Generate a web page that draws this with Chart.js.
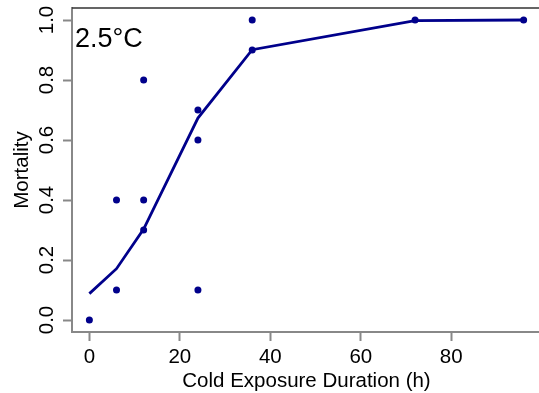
<!DOCTYPE html>
<html>
<head>
<meta charset="utf-8">
<script src="https://cdn.jsdelivr.net/npm/chart.js@4"></script>
<style>
  html, body { margin: 0; padding: 0; overflow: hidden; background: #fff; }
  canvas { display: block; }
</style>
</head>
<body>
<canvas id="c" width="541" height="393" style="width:541px;height:393px"></canvas>
<script>
// Observed data
const obsHours = [0, 6, 6, 12, 12, 12, 24, 24, 24, 36, 36, 72, 96];
const obsMortality = [0.0, 0.4, 0.1, 0.8, 0.4, 0.3, 0.7, 0.6, 0.1, 1.0, 0.9, 1.0, 1.0];
// Fitted curve
const fitHours = [0, 6, 12, 24, 36, 72, 96];
const fitMortality = [0.088, 0.171, 0.303, 0.673, 0.901, 0.998, 1.0];
// Tick labels
const xTicks = [0, 20, 40, 60, 80];
const yTicks = [0.0, 0.2, 0.4, 0.6, 0.8, 1.0];
const xTitle = 'Cold Exposure Duration (h)';
const yTitle = 'Mortality';
const panelLabel = '2.5°C';

const NAVY = '#00008B';
const FONT = '"Liberation Sans", Arial, sans-serif';

const textPlugin = {
  id: 'rtext',
  afterDraw(chart) {
    const ctx = chart.ctx;
    const xs = chart.scales.x, ys = chart.scales.y, a = chart.chartArea;
    ctx.save();
    // box top / right
    ctx.strokeStyle = '#333';
    ctx.lineWidth = 1.5;
    ctx.beginPath();
    ctx.moveTo(a.left, a.top);
    ctx.lineTo(a.right, a.top);
    ctx.lineTo(a.right, a.bottom);
    ctx.stroke();
    ctx.fillStyle = '#000';
    ctx.font = '20.5px ' + FONT;
    ctx.textAlign = 'center';
    ctx.textBaseline = 'alphabetic';
    xTicks.forEach(v => {
      ctx.fillText(String(v), xs.getPixelForValue(v), 362.7);
    });
    ctx.fillText(xTitle, (a.left + a.right) / 2, 386.7);
    yTicks.forEach(v => {
      ctx.save();
      ctx.translate(53.3, ys.getPixelForValue(v));
      ctx.rotate(-Math.PI / 2);
      ctx.fillText(v.toFixed(1), 0, 0);
      ctx.restore();
    });
    ctx.save();
    ctx.translate(28.3, (a.top + a.bottom) / 2);
    ctx.rotate(-Math.PI / 2);
    ctx.fillText(yTitle, 0, 0);
    ctx.restore();
    ctx.font = '27px ' + FONT;
    ctx.textAlign = 'left';
    ctx.fillText(panelLabel, 75, 46.7);
    ctx.restore();
  }
};

new Chart(document.getElementById('c'), {
  type: 'scatter',
  data: {
    datasets: [
      {
        type: 'line',
        data: fitHours.map((h, i) => ({ x: h, y: fitMortality[i] })),
        borderColor: NAVY,
        borderWidth: 2.8,
        pointRadius: 0,
        fill: false,
        tension: 0
      },
      {
        data: obsHours.map((h, i) => ({ x: h, y: obsMortality[i] })),
        backgroundColor: NAVY,
        borderColor: NAVY,
        pointRadius: 3.5,
        borderWidth: 0
      }
    ]
  },
  options: {
    responsive: false,
    maintainAspectRatio: false,
    devicePixelRatio: 1,
    animation: false,
    layout: { autoPadding: false, padding: { top: 8, right: 0, left: 0, bottom: 0 } },
    plugins: { legend: { display: false }, tooltip: { enabled: false } },
    scales: {
      x: {
        type: 'linear',
        min: -3.84, max: 99.84,
        afterBuildTicks: s => { s.ticks = xTicks.map(v => ({ value: v })); },
        afterFit: s => { s.height = 61; },
        ticks: { display: false },
        grid: { display: true, drawOnChartArea: false, drawTicks: true, tickLength: 9, tickColor: '#888', tickWidth: 2 },
        border: { display: true, color: '#888', width: 2 }
      },
      y: {
        type: 'linear',
        min: -0.04, max: 1.04,
        afterBuildTicks: s => { s.ticks = yTicks.map(v => ({ value: v })); },
        afterFit: s => { s.width = 72; },
        ticks: { display: false },
        grid: { display: true, drawOnChartArea: false, drawTicks: true, tickLength: 9, tickColor: '#888', tickWidth: 2 },
        border: { display: true, color: '#888', width: 2 }
      }
    }
  },
  plugins: [textPlugin]
});
</script>
</body>
</html>
